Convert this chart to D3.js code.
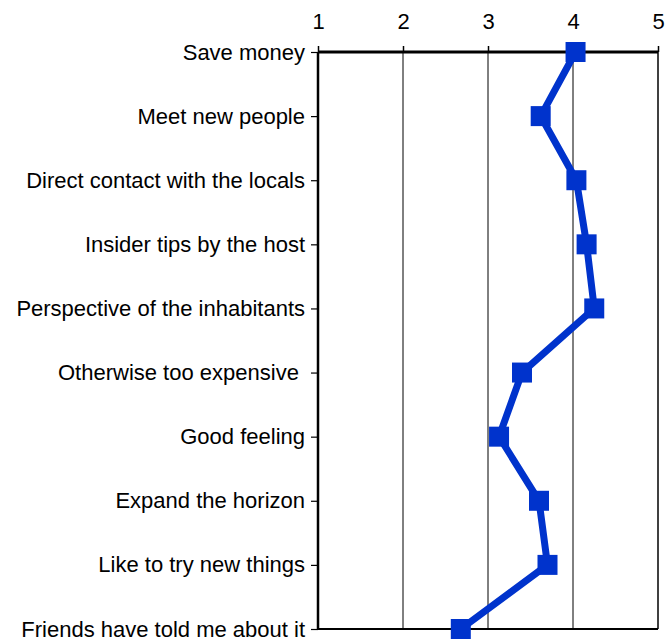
<!DOCTYPE html>
<html><head><meta charset="utf-8">
<script src="https://cdn.jsdelivr.net/npm/d3@7"></script>
<style>body{margin:0;background:#fff}svg{display:block}</style>
</head><body>
<script>
const categories = ["Save money","Meet new people","Direct contact with the locals","Insider tips by the host","Perspective of the inhabitants","Otherwise too expensive ","Good feeling","Expand the horizon","Like to try new things","Friends have told me about it"];
const values = [4.03,3.62,4.04,4.16,4.25,3.40,3.13,3.60,3.70,2.68];
const xTicks = [1,2,3,4,5];

const W=665,H=639;
const svg=d3.select("body").append("svg").attr("width",W).attr("height",H);
const x=d3.scaleLinear().domain([1,5]).range([318,658]);
const y=d3.scalePoint().domain(categories).range([52,629]);
const font="Liberation Sans, Arial, sans-serif";

// gridlines
svg.append("g").selectAll("line").data(xTicks.slice(1,4)).join("line")
  .attr("x1",d=>x(d)).attr("x2",d=>x(d)).attr("y1",52).attr("y2",629)
  .attr("stroke","#000").attr("stroke-width",1);
// right border
svg.append("line").attr("x1",x(5)).attr("x2",x(5)).attr("y1",52).attr("y2",629).attr("stroke","#000").attr("stroke-width",1.5);
// bottom border
svg.append("line").attr("x1",x(1)).attr("x2",x(5)).attr("y1",629).attr("y2",629).attr("stroke","#000").attr("stroke-width",2);

// top axis
const gx=svg.append("g").attr("transform","translate(0,52)")
  .call(d3.axisTop(x).tickValues(xTicks).tickFormat(d3.format("d")).tickSize(6).tickPadding(17));
gx.select(".domain").attr("stroke-width",3).attr("d",`M${x(1)},0H${x(5)}`);
gx.selectAll(".tick line").attr("stroke-width",1.5);
gx.selectAll("text").attr("font-family",font).attr("font-size",22).attr("fill","#000");

// left axis
const gy=svg.append("g").attr("transform",`translate(${x(1)},0)`)
  .call(d3.axisLeft(y).tickSize(7).tickPadding(6));
gy.select(".domain").attr("stroke-width",2.5).attr("d","M0,52V629");
gy.selectAll(".tick line").attr("stroke-width",1.2);
gy.selectAll("text").attr("font-family",font).attr("font-size",22).attr("fill","#000").style("white-space","pre");

// line
const pts=categories.map((c,i)=>[x(values[i]),y(c)]);
svg.append("path").attr("d",d3.line()(pts)).attr("fill","none").attr("stroke","#0033CC").attr("stroke-width",7);
svg.append("g").selectAll("rect").data(pts).join("rect")
  .attr("x",d=>d[0]-10).attr("y",d=>d[1]-10).attr("width",20).attr("height",20).attr("fill","#0033CC");
</script>
</body></html>
